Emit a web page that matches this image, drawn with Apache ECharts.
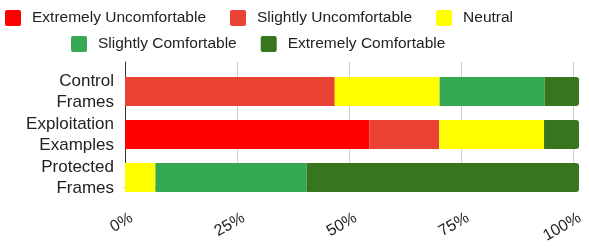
<!DOCTYPE html>
<html>
<head>
<meta charset="utf-8">
<script src="https://cdn.jsdelivr.net/npm/echarts@6/dist/echarts.min.js"></script>
<style>
  html, body { margin: 0; padding: 0; background: #fff; }
  #chart { width: 589px; height: 250px; }
</style>
</head>
<body>
<div id="chart"></div>
<script>
  // data (percent of participants)
  var categories = ['Control\nFrames', 'Exploitation\nExamples', 'Protected\nFrames'];
  var seriesNames = ['Extremely Uncomfortable', 'Slightly Uncomfortable', 'Neutral', 'Slightly Comfortable', 'Extremely Comfortable'];
  var extremelyUncomfortable = [0, 53.8, 0];
  var slightlyUncomfortable = [46.2, 15.4, 0];
  var neutral = [23.1, 23.1, 6.7];
  var slightlyComfortable = [23.1, 0, 33.3];
  var extremelyComfortable = [7.7, 7.7, 60];
  var xTicks = [0, 25, 50, 75, 100];

  var colors = ['#ff0000', '#ea4335', '#ffff00', '#34a853', '#38761d'];
  var values = [extremelyUncomfortable, slightlyUncomfortable, neutral, slightlyComfortable, extremelyComfortable];
  var font = 'Liberation Sans, Arial, sans-serif';
  var legendIcon = 'path://M2,0H14Q16,0,16,2V14Q16,16,14,16H2Q0,16,0,14V2Q0,0,2,0Z';

  var chart = echarts.init(document.getElementById('chart'));

  var series = seriesNames.map(function (name, i) {
    return {
      name: name,
      type: 'bar',
      stack: 'total',
      xAxisIndex: 1,
      yAxisIndex: 1,
      barWidth: 29,
      itemStyle: {
        color: colors[i],
        borderRadius: i === seriesNames.length - 1 ? [0, 3, 3, 0] : 0
      },
      data: values[i]
    };
  });

  function legendRow(names, left, top) {
    return {
      data: names,
      left: left, top: top,
      padding: 0,
      itemWidth: 16, itemHeight: 16, itemGap: 24,
      icon: legendIcon,
      textStyle: { fontSize: 15.5, color: '#222', fontFamily: font, padding: [0, 0, 0, 6] }
    };
  }

  chart.setOption({
    animation: false,
    color: colors,
    textStyle: { fontFamily: font },
    legend: [
      legendRow(seriesNames.slice(0, 3), 5, 10),
      legendRow(seriesNames.slice(3), 71, 36)
    ],
    grid: [
      { left: 125, right: 10, top: 62, bottom: 43 },
      { left: 125, right: 10, top: 70, bottom: 51 }
    ],
    xAxis: [
      {
        gridIndex: 0,
        type: 'value',
        min: xTicks[0],
        max: xTicks[xTicks.length - 1],
        interval: 25,
        axisLine: { show: true, lineStyle: { color: '#333', width: 1 } },
        axisTick: { show: false },
        splitLine: { show: true, lineStyle: { color: '#cccccc' } },
        axisLabel: {
          // empty first line pushes the text so its top-right corner sits at the tick
          formatter: function (v) { return '\n' + v + '%'; },
          rotate: 30,
          margin: 18.5,
          lineHeight: 26,
          fontSize: 16,
          color: '#222',
          fontFamily: font
        }
      },
      {
        gridIndex: 1,
        type: 'value',
        min: 0,
        max: 100,
        show: false
      }
    ],
    yAxis: [
      {
        gridIndex: 0,
        type: 'value',
        axisLine: { show: true, lineStyle: { color: '#333', width: 1 } },
        axisTick: { show: false },
        axisLabel: { show: false },
        splitLine: { show: false }
      },
      {
        gridIndex: 1,
        type: 'category',
        inverse: true,
        data: categories,
        axisLine: { show: false },
        axisTick: { show: false },
        axisLabel: {
          fontSize: 17,
          color: '#222',
          fontFamily: font,
          lineHeight: 21,
          align: 'right',
          margin: 11
        }
      }
    ],
    series: series
  });
</script>
</body>
</html>
